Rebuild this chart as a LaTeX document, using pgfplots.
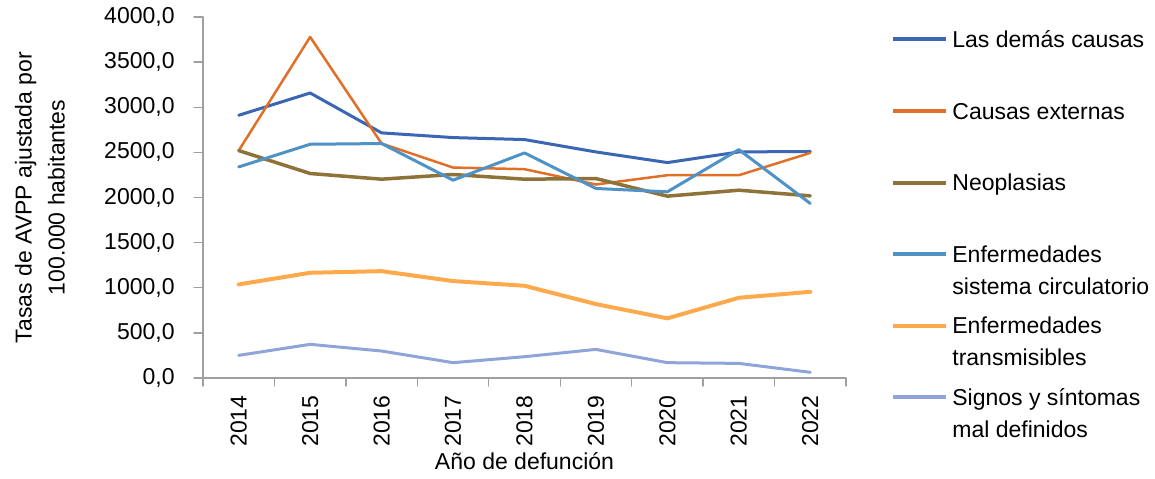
\documentclass[border=0pt]{standalone}
\usepackage{fontspec}
\setmainfont{Liberation Sans}
\usepackage{pgfplots}
\pgfplotsset{compat=1.18}
\definecolor{cDemas}{RGB}{58,102,179}
\definecolor{cExt}{RGB}{224,112,40}
\definecolor{cNeo}{RGB}{142,115,57}
\definecolor{cCirc}{RGB}{78,146,198}
\definecolor{cTrans}{RGB}{255,169,77}
\definecolor{cSig}{RGB}{143,164,216}
\definecolor{axgray}{RGB}{160,160,160}
\newcommand{\two}[2]{\smash{\begin{tabular}[t]{@{}l@{}}#1\\[2.2pt]#2\end{tabular}}}
\begin{document}
\fontsize{11.5pt}{13.8pt}\selectfont
\begin{tikzpicture}
\path[use as bounding box] (-101.5pt,-50pt) rectangle (476pt,189pt);
\begin{axis}[
  scale only axis,
  width=321.5pt, height=180.5pt,
  anchor=south west, at={(0pt,0pt)},
  xmin=-0.5, xmax=8.5, ymin=0, ymax=4000,
  axis x line*=bottom, axis y line*=left,
  axis line style={-, draw=axgray, line width=0.7pt},
  xtick={0,...,8},
  xticklabels={2014,2015,2016,2017,2018,2019,2020,2021,2022},
  minor xtick={-0.5,0.5,...,8.5},
  major x tick style={draw=none},
  minor x tick style={draw=axgray, line width=0.7pt},
  ytick={0,500,...,4000},
  ytick style={draw=axgray, line width=0.7pt},
  tick align=outside,
  major tick length=4.5pt, minor tick length=4pt,
  xticklabel style={rotate=90, anchor=east, inner sep=0pt},
  xticklabel shift=4pt,
  yticklabel style={anchor=east, inner sep=0pt},
  yticklabel shift=9.5pt,
  /pgf/number format/assume math mode=true,
  yticklabel={\pgfmathprintnumber[fixed, fixed zerofill, precision=1, use comma, 1000 sep={}]{\tick}},
  xlabel={Año de defunción},
  xlabel style={at={(axis description cs:0.5,-0.23)}, anchor=center, inner sep=0pt},
  ylabel={Tasas de AVPP ajustada por\\100.000 habitantes},
  ylabel style={at={(axis description cs:-0.2535,0.5)}, anchor=center, align=center, font=\fontsize{11.5pt}{16.5pt}\selectfont},
  legend style={at={(axis description cs:1.07,0.961)}, anchor=north west, draw=none, fill=none,
    inner sep=0pt, row sep=0pt, column sep=2pt,
    nodes={inner sep=0pt, text height=8pt, text depth=27.8pt}},
  legend cell align=left,
  legend image code/.code={\draw[#1, line width=2pt] (0pt,13.9pt) -- (26.5pt,13.9pt);},
  line cap=round, line join=round,
]
\addplot[cDemas, line width=1.5pt] coordinates {(0,2911) (1,3158) (2,2716) (3,2664) (4,2642) (5,2505) (6,2387) (7,2505) (8,2510)};
\addlegendentry{Las demás causas}
\addplot[cExt, line width=1.25pt] coordinates {(0,2520) (1,3779) (2,2598) (3,2332) (4,2314) (5,2144) (6,2247) (7,2247) (8,2494)};
\addlegendentry{Causas externas}
\addplot[cNeo, line width=1.75pt] coordinates {(0,2520) (1,2266) (2,2203) (3,2255) (4,2203) (5,2210) (6,2015) (7,2081) (8,2018)};
\addlegendentry{Neoplasias}
\addplot[cCirc, line width=1.5pt] coordinates {(0,2339) (1,2590) (2,2598) (3,2192) (4,2494) (5,2100) (6,2063) (7,2531) (8,1934)};
\addlegendentry{\two{Enfermedades}{sistema circulatorio}}
\addplot[cTrans, line width=2pt] coordinates {(0,1037) (1,1166) (2,1184) (3,1074) (4,1022) (5,819) (6,661) (7,889) (8,955)};
\addlegendentry{\two{Enfermedades}{transmisibles}}
\addplot[cSig, line width=1.5pt] coordinates {(0,251) (1,373) (2,299) (3,170) (4,236) (5,317) (6,170) (7,162) (8,63)};
\addlegendentry{\two{Signos y síntomas}{mal definidos}}
\end{axis}
\end{tikzpicture}
\end{document}
